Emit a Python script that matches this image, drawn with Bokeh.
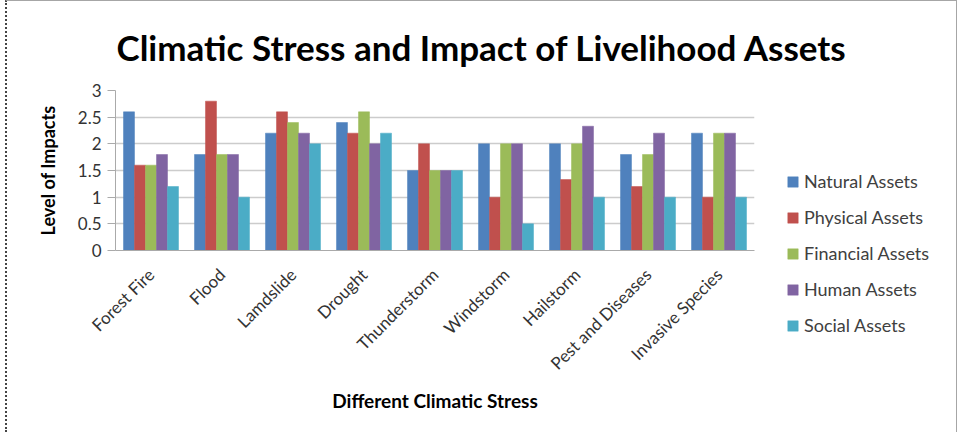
from bokeh.plotting import figure
from bokeh.models import FactorRange, ColumnDataSource, Legend, LegendItem, FixedTicker, CustomJSTickFormatter
from bokeh.transform import dodge
from bokeh.embed import file_html
from bokeh.resources import INLINE
import math

categories = ["Forest Fire", "Flood", "Lamdslide", "Drought", "Thunderstorm",
              "Windstorm", "Hailstorm", "Pest and Diseases", "Invasive Species"]
natural = [2.6, 1.8, 2.2, 2.4, 1.5, 2.0, 2.0, 1.8, 2.2]
physical = [1.6, 2.8, 2.6, 2.2, 2.0, 1.0, 1.33, 1.2, 1.0]
financial = [1.6, 1.8, 2.4, 2.6, 1.5, 2.0, 2.0, 1.8, 2.2]
human = [1.8, 1.8, 2.2, 2.0, 1.5, 2.0, 2.33, 2.2, 2.2]
social = [1.2, 1.0, 2.0, 2.2, 1.5, 0.5, 1.0, 1.0, 1.0]
series_names = ["Natural Assets", "Physical Assets", "Financial Assets", "Human Assets", "Social Assets"]
y_ticks = [0, 0.5, 1, 1.5, 2, 2.5, 3]

colors = ["#4F81BD", "#C0504D", "#9BBB59", "#8064A2", "#4BACC6"]
keys = ["natural", "physical", "financial", "human", "social"]

source = ColumnDataSource(data=dict(cat=categories, natural=natural, physical=physical,
                                    financial=financial, human=human, social=social))

W, H = 945, 431
fl, fr, ft, fb = 108, 747, 89, 249

p = figure(x_range=FactorRange(*categories, range_padding=0), y_range=(0, 3),
           width=W, height=H, frame_width=fr - fl, frame_height=fb - ft,
           output_backend="svg", toolbar_location=None,
           min_border_left=fl, min_border_right=0, min_border_top=ft, min_border_bottom=H - fb)
p.styles = {"margin-left": "5px",
            "border-left": "2px dotted #444444", "border-top": "1px solid #a6a6a6",
            "border-right": "1px solid #a6a6a6", "max-width": "952px", "overflow": "hidden"}

bw = 0.155
items = []
for i, (k, name, c) in enumerate(zip(keys, series_names, colors)):
    r = p.vbar(x=dodge("cat", (i - 2) * bw, range=p.x_range), top=k, width=bw,
               source=source, fill_color=c, line_color=c, line_width=0.5)
    items.append(LegendItem(label=name, renderers=[r]))

legend = Legend(items=items, location=(32, -86), margin=0, padding=0,
                glyph_width=13, glyph_height=13, label_height=22, spacing=14,
                label_standoff=5, label_text_font="Lato", label_text_font_size="18px",
                label_text_color="#404040", border_line_alpha=0, background_fill_alpha=0)
p.add_layout(legend, "right")

p.title.text = "Climatic Stress and Impact of Livelihood Assets"
p.title.text_font = "Lato"
p.title.text_font_size = "35px"
p.title.text_font_style = "bold"
p.title.text_color = "#000000"
p.title.align = "left"
p.title.offset = 1
p.title.standoff = 45

p.outline_line_color = None
p.xgrid.grid_line_color = None
p.ygrid.grid_line_color = "#cccccc"
p.ygrid.grid_line_width = 1.5
p.yaxis.ticker = FixedTicker(ticks=y_ticks)
p.yaxis.formatter = CustomJSTickFormatter(code="return tick.toString();")
p.yaxis.axis_label = "Level of Impacts"
p.xaxis.axis_label = "Different Climatic Stress"
for ax in (p.xaxis, p.yaxis):
    ax.axis_line_color = "#aaaaaa"
    ax.major_tick_line_color = "#aaaaaa"
    ax.minor_tick_line_color = None
    ax.axis_label_text_font = "Lato"
    ax.axis_label_text_font_style = "bold"
    ax.axis_label_text_color = "#000000"
    ax.major_label_text_font = "Lato"
    ax.major_label_text_color = "#333333"
p.yaxis.axis_label_text_font_size = "18px"
p.xaxis.axis_label_text_font_size = "19px"
p.yaxis.major_tick_in = 0
p.yaxis.major_tick_out = 8
p.yaxis.major_label_standoff = 6
p.yaxis.major_label_text_font_size = "17px"
p.yaxis.axis_label_standoff = 16
p.xaxis.major_tick_in = 0
p.xaxis.major_tick_out = 0
p.xaxis.major_label_text_font_size = "17px"
p.xaxis.major_label_orientation = math.pi / 4
p.xaxis.major_label_standoff = 21
p.xaxis.axis_label_standoff = 5

open("out.html", "w").write(file_html(p, INLINE))
